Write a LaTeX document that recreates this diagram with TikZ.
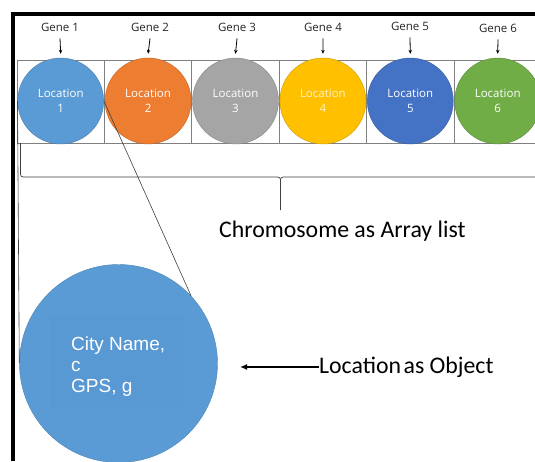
\documentclass[tikz,border=0pt]{standalone}
\usepackage{fontspec}
\setmainfont{Carlito}
\newfontfamily\osans{Open Sans}
\newfontfamily\arialf{Liberation Sans}
\usetikzlibrary{arrows.meta}
\definecolor{cblue}{HTML}{5B9BD5}
\definecolor{corange}{HTML}{ED7D31}
\definecolor{cgray}{HTML}{A5A5A5}
\definecolor{cgold}{HTML}{FFC000}
\definecolor{cdblue}{HTML}{4472C4}
\definecolor{cgreen}{HTML}{70AD47}
\definecolor{cellline}{HTML}{808080}
\definecolor{linecol}{HTML}{404040}
\definecolor{paleyellow}{HTML}{FFF2CC}
\definecolor{innerbox}{HTML}{5898D3}
\tikzset{
  loc/.style={circle, minimum size=86pt, inner sep=0pt, draw=#1!80!black, line width=0.4pt, fill=#1,
    text=white, align=center, font=\osans\fontsize{11.5}{15}\selectfont},
  genelab/.style={font=\osans\fontsize{11.5}{13}\selectfont, text=black!85, inner sep=1pt},
  genearrow/.style={-{Stealth[length=4pt,width=3.5pt]}, line width=0.8pt, black},
  cell/.style={draw=cellline, line width=0.8pt},
  callout/.style={draw=linecol, line width=0.6pt},
  bigtxt/.style={font=\fontsize{23.8}{26}\selectfont, text=black, inner sep=0pt}
}
\begin{document}
\begin{tikzpicture}[x=1pt,y=-1pt]
\useasboundingbox (0,0) rectangle (535,461);
\fill[white] (0,0) rectangle (535,461);
% frame
\draw[line width=4pt] (11,14) -- (535,14);
\draw[line width=4pt] (13,12) -- (13,461);
% cells
\foreach \i in {0,...,5} {
  \draw[cell] ({17+87.4*\i},60) rectangle ({17+87.4*(\i+1)},143);
}
% circles
\node[loc=cblue]   (loc1) at (60.7,101) {Location\\1};
\node[loc=corange] (loc2) at (148.1,101) {Location\\2};
\node[loc=cgray]   (loc3) at (235.5,101) {Location\\3};
\node[loc=cgold, text=paleyellow] (loc4) at (322.9,101) {Location\\4};
\node[loc=cdblue]  (loc5) at (410.3,101) {Location\\5};
\node[loc=cgreen]  (loc6) at (497.7,101) {Location\\6};
% genes
\node[genelab] (gene1) at (60,27) {Gene 1};
\node[genelab] (gene2) at (150,27) {Gene 2};
\node[genelab] (gene3) at (237,27) {Gene 3};
\node[genelab] (gene4) at (323,27) {Gene 4};
\node[genelab] (gene5) at (410,26) {Gene 5};
\node[genelab] (gene6) at (498,28) {Gene 6};
\foreach \i in {1,...,6} {
  \draw[genearrow] ([yshift=-6pt]gene\i.south) -- ([yshift=4pt]loc\i.north);
}
% brace
\draw[linecol, line width=0.7pt] (20.5,143) -- (20.5,171) .. controls (20.5,177) .. (26.5,177) -- (274.5,177)
  .. controls (280.5,177) .. (280.5,183) -- (280.5,210);
\draw[linecol, line width=0.7pt] (280.5,183) .. controls (280.5,177) .. (286.5,177) -- (535,177);
\node[bigtxt, anchor=west] (chrom) at (219,231) {Chromosome as Array list};
% big circle
\node[circle, minimum size=198pt, inner sep=0pt, fill=cblue, draw=cblue!85!black, line width=0.4pt] (big) at (118.5,363.5) {};
\fill[innerbox] (50,315) rectangle (185,407);
\node[anchor=north west, align=left, inner sep=0pt, text=white, font=\arialf\fontsize{19}{21}\selectfont] (citytxt) at (71,337) {City Name,\\c\\GPS, g};
% callout lines
\draw[callout] (loc1.east) -- (big.43);
\draw[callout] (loc1.west) -- (big.west);
% object label
\node[bigtxt, anchor=west] (obj) at (319,367) {Location\hspace{-0.12em} as Object};
\coordinate (objtip) at (240,367);
\draw[-{Latex[length=7pt,width=6pt]}, line width=1.5pt, black] (obj.west) -- (objtip);
\end{tikzpicture}
\end{document}
